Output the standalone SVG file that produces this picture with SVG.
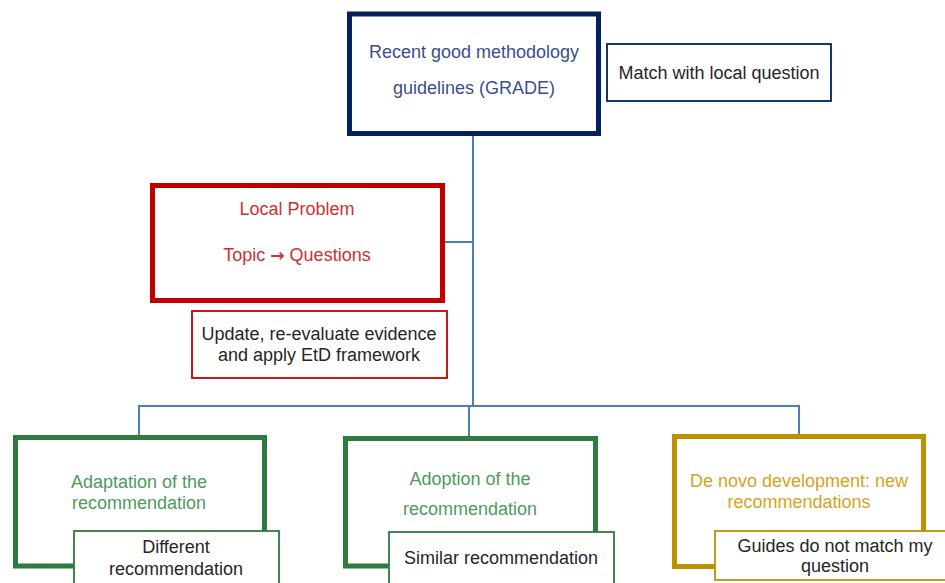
<svg xmlns="http://www.w3.org/2000/svg" width="945" height="583" viewBox="0 0 945 583">
<style>
text{font-family:"Liberation Sans","Open Sans",Arial,sans-serif;font-size:18px;text-anchor:middle}
.big{fill:#fff;stroke-width:5}
.small{fill:#fff;stroke-width:1.8}
.conn{fill:none;stroke:#4A7EBB;stroke-width:2}
.navy{stroke:#002060}
.red{stroke:#C00000}
.green{stroke:#2E7B3F}
.gold{stroke:#BF9000}
.tnavy{fill:#3A4F8A}
.tred{fill:#D03030}
.tgreen{fill:#4E9A5E}
.tgold{fill:#D4A31C}
.tdark{fill:#262626}
.arrow{font-family:"DejaVu Sans",sans-serif;font-size:17px;font-weight:bold}
</style>
<rect width="945" height="583" fill="#fff"/>
<g id="connectors">
<path class="conn" d="M473,134 V406"/>
<path class="conn" d="M445,242 H473"/>
<path class="conn" d="M139,437 V406 H799 V435"/>
<path class="conn" d="M469,406 V437"/>
</g>
<g id="guidelines">
<rect class="big navy" x="349.5" y="14" width="249" height="119.5"/>
<text class="tnavy" x="474" y="58">Recent good methodology</text>
<text class="tnavy" x="474" y="94">guidelines (GRADE)</text>
</g>
<g id="match">
<rect class="small navy" x="607" y="44" width="224" height="57"/>
<text class="tdark" x="719" y="79">Match with local question</text>
</g>
<g id="local-problem">
<rect class="big red" x="152.5" y="185.5" width="290" height="115"/>
<text class="tred" x="297" y="215">Local Problem</text>
<text class="tred" x="297" y="261">Topic <tspan class="arrow">→</tspan> Questions</text>
</g>
<g id="update">
<rect class="small red" x="192" y="311" width="255" height="67"/>
<text class="tdark" x="319" y="340">Update, re-evaluate evidence</text>
<text class="tdark" x="319" y="361">and apply EtD framework</text>
</g>
<g id="adaptation">
<rect class="big green" x="15.5" y="437.5" width="249" height="128.5"/>
<text class="tgreen" x="139" y="488">Adaptation of the</text>
<text class="tgreen" x="139" y="509">recommendation</text>
</g>
<g id="different">
<rect class="small green" x="74" y="531" width="205" height="60"/>
<text class="tdark" x="176" y="553">Different</text>
<text class="tdark" x="176" y="575">recommendation</text>
</g>
<g id="adoption">
<rect class="big green" x="345.5" y="438.5" width="250" height="127.5"/>
<text class="tgreen" x="470" y="485">Adoption of the</text>
<text class="tgreen" x="470" y="515">recommendation</text>
</g>
<g id="similar">
<rect class="small green" x="389" y="532" width="225" height="60"/>
<text class="tdark" x="501" y="564">Similar recommendation</text>
</g>
<g id="de-novo">
<rect class="big gold" x="674.5" y="436.5" width="249" height="130"/>
<text class="tgold" x="799" y="487">De novo development: new</text>
<text class="tgold" x="799" y="508">recommendations</text>
</g>
<g id="guides">
<rect class="small gold" x="715" y="531" width="234" height="49"/>
<text class="tdark" x="835" y="552">Guides do not match my</text>
<text class="tdark" x="835" y="572">question</text>
</g>
</svg>
